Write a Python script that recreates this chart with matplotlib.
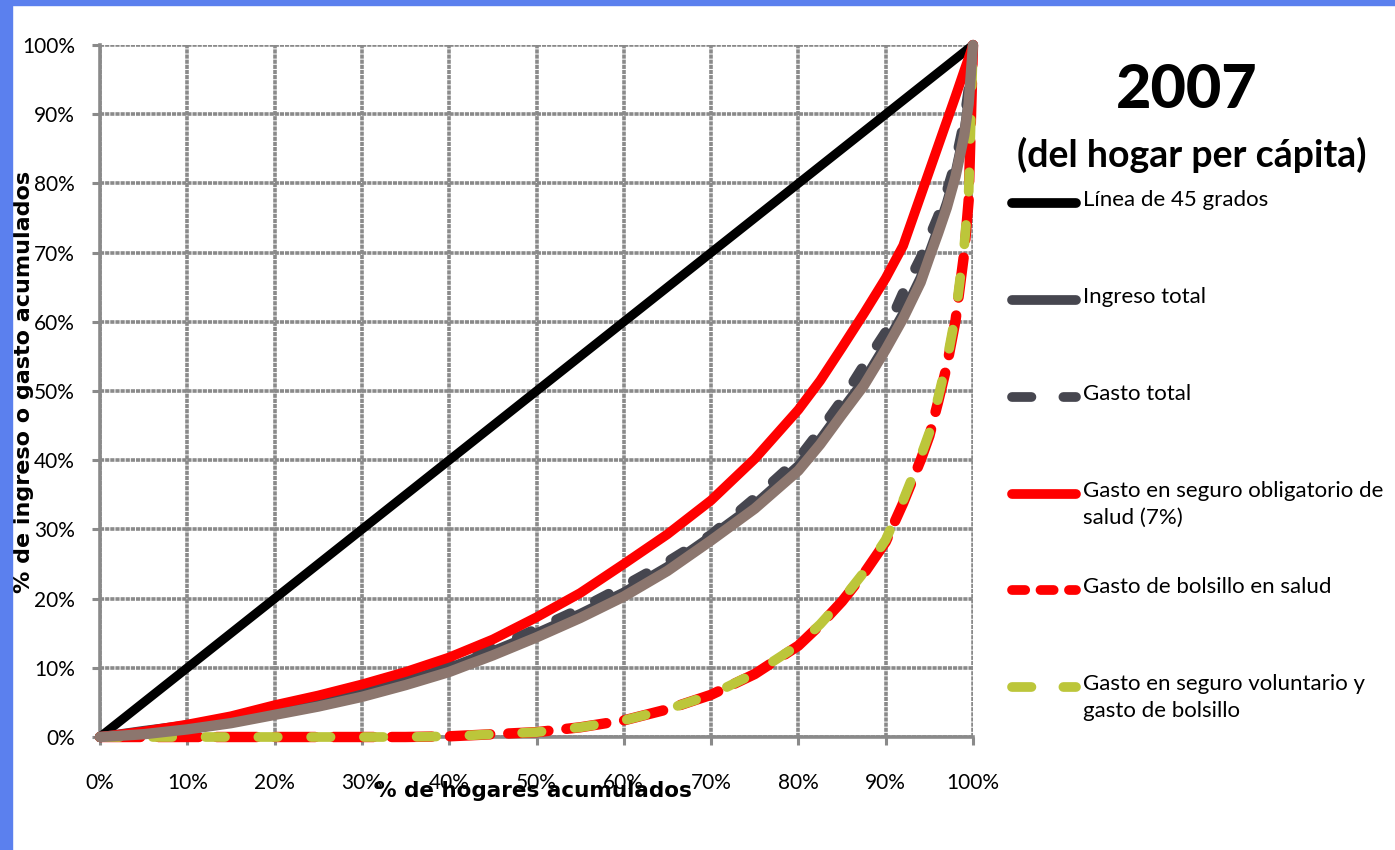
import matplotlib
matplotlib.use("Agg")
import matplotlib.pyplot as plt
from matplotlib.lines import Line2D
from matplotlib.patches import Rectangle
from matplotlib.ticker import PercentFormatter

plt.rcParams['font.family'] = ['Lato', 'DejaVu Sans']
plt.rcParams['lines.scale_dashes'] = False

# % de hogares acumulados
hogares = [0, 5, 10, 15, 20, 25, 30, 35, 40, 45, 50, 55, 60, 65, 70, 75, 80,
           82.5, 85, 87.5, 90, 92, 94, 95, 96, 97, 98, 99, 99.5, 100]

linea45 = list(hogares)
ingreso_total = [0, 0.9, 1.7, 2.6, 3.8, 5.0, 6.4, 8.1, 10.0, 12.4, 15.0, 17.8, 20.9, 24.6,
                 29.0, 33.6, 39.2, 43.0, 47.3, 51.5, 56.7, 61.2, 66.4, 70.0, 73.5, 77.2, 81.6, 87.5, 92.0, 100]
gasto_total = [0, 0.6, 1.6, 2.7, 3.9, 5.2, 6.7, 8.4, 10.3, 12.8, 15.6, 18.5, 21.8, 25.3,
               29.2, 34.5, 40.2, 44.3, 48.7, 53.7, 58.5, 64.2, 69.2, 72.2, 75.2, 78.8, 83.0, 89.0, 93.5, 100]
seguro_obligatorio = [0, 0.8, 1.8, 3.0, 4.6, 6.0, 7.6, 9.4, 11.5, 14.1, 17.3, 20.8, 25.0, 29.3,
                      34.2, 40.2, 47.3, 51.5, 56.3, 61.2, 66.3, 71.0, 78.2, 81.8, 85.4, 89.0, 92.6, 96.3, 98.1, 100]
gasto_bolsillo = [0, 0, 0, 0, 0, 0, 0, 0, 0.1, 0.4, 0.7, 1.4, 2.4, 4.0,
                  6.1, 9.1, 13.2, 16.2, 19.6, 23.6, 28.2, 33.8, 40.0, 43.5, 48.4, 53.6, 60.2, 70.0, 77.5, 100]
seguro_voluntario = [0, 0, 0, 0, 0, 0, 0, 0, 0.1, 0.4, 0.7, 1.4, 2.4, 4.0,
                     6.1, 9.2, 13.3, 16.3, 19.8, 23.8, 28.5, 34.2, 40.5, 44.0, 49.0, 54.3, 61.0, 71.0, 78.5, 100]
# curva marron sin leyenda, dibujada encima
ingreso_hogar = [0, 0.4, 1.1, 2.0, 3.2, 4.4, 5.8, 7.5, 9.4, 11.8, 14.4, 17.2, 20.3, 24.0,
                 28.4, 33.0, 38.5, 42.3, 46.6, 50.8, 56.0, 60.5, 65.7, 69.3, 72.8, 76.5, 81.0, 87.0, 91.5, 100]

labels = ["Línea de 45 grados", "Ingreso total", "Gasto total",
          "Gasto en seguro obligatorio de\nsalud (7%)", "Gasto de bolsillo en salud",
          "Gasto en seguro voluntario y\ngasto de bolsillo"]

grey = '#8a8a8a'
c_black = '#000000'
c_dark = '#46464f'
c_red = '#ff0000'
c_yellow = '#bcc63a'
c_brown = '#8c766e'

fig = plt.figure(figsize=(13.95, 8.5), dpi=100)
fig.patches.append(Rectangle((0, 0), 12 / 1395, 1, transform=fig.transFigure,
                             color='#5b80ee', zorder=0))
fig.patches.append(Rectangle((0, 1 - 5 / 850), 1, 5 / 850, transform=fig.transFigure,
                             color='#5b80ee', zorder=0))

ax = fig.add_axes([100 / 1395, 1 - 737 / 850, 873 / 1395, 692 / 850])
ax.set_xlim(0, 100)
ax.set_ylim(0, 100)
ax.set_xticks(range(0, 101, 10))
ax.set_yticks(range(0, 101, 10))
ax.xaxis.set_major_formatter(PercentFormatter(decimals=0))
ax.yaxis.set_major_formatter(PercentFormatter(decimals=0))
ax.grid(True, color=grey, lw=2.6, linestyle=(0, (3, 0.7)))
ax.set_axisbelow(True)
for s in ['top', 'right']:
    ax.spines[s].set_visible(False)
for s in ['left', 'bottom']:
    ax.spines[s].set_color(grey)
    ax.spines[s].set_linewidth(2.6)
ax.tick_params(axis='both', color=grey, width=2.2, length=6, labelsize=15)
ax.tick_params(axis='y', pad=12)
ax.tick_params(axis='x', pad=20)

kw = dict(clip_on=False, dash_capstyle='round', solid_capstyle='round')
ax.plot(hogares, linea45, color=c_black, lw=6.5, solid_capstyle='butt', clip_on=False, zorder=3)
ax.plot(hogares, ingreso_total, color=c_dark, lw=7, zorder=3, **kw)
ax.plot(hogares, gasto_total, color=c_dark, lw=7.5, dashes=(11, 20), zorder=3, **kw)
ax.plot(hogares, seguro_obligatorio, color=c_red, lw=7, zorder=4, **kw)
ax.plot(hogares, gasto_bolsillo, color=c_red, lw=7.5, dashes=(29, 13), zorder=4, **kw)
ax.plot(hogares, seguro_voluntario, color=c_yellow, lw=7, dashes=(14, 24), zorder=5, **kw)
ax.plot(hogares, ingreso_hogar, color=c_brown, lw=7.5, zorder=6, **kw)

ax.set_xlabel("% de hogares acumulados", family='DejaVu Sans', fontweight='bold', fontsize=15.5)
ax.xaxis.set_label_coords(0.496, -0.064)
ax.set_ylabel("% de ingreso o gasto acumulados", family='DejaVu Sans', fontweight='bold', fontsize=16)
ax.yaxis.set_label_coords(-0.076, 0.513)

fig.text(1187 / 1395, 1 - 90 / 850, "2007", ha='center', va='center',
         fontsize=44, fontweight='black')
fig.text(1192 / 1395, 1 - 155 / 850, "(del hogar per cápita)", ha='center', va='center',
         fontsize=27, fontweight='bold')

# leyenda
styles = [dict(color=c_black, lw=7, solid_capstyle='round'),
          dict(color=c_dark, lw=7, solid_capstyle='round'),
          dict(color=c_dark, lw=7, dashes=(14, 23), dash_capstyle='round'),
          dict(color=c_red, lw=7, solid_capstyle='round'),
          dict(color=c_red, lw=7, dashes=(9.5, 11), dash_capstyle='round'),
          dict(color=c_yellow, lw=7, dashes=(14, 23), dash_capstyle='round')]
ys = [203, 300, 397, 494, 590, 687]
for lab, st, y in zip(labels, styles, ys):
    yf = 1 - y / 850
    fig.add_artist(Line2D([1012 / 1395, 1076 / 1395], [yf, yf], transform=fig.transFigure, **st))
    fig.text(1083 / 1395, 1 - (y - 13) / 850, lab, ha='left', va='top', fontsize=16,
             linespacing=1.45)

fig.savefig("out.png", dpi=100)
